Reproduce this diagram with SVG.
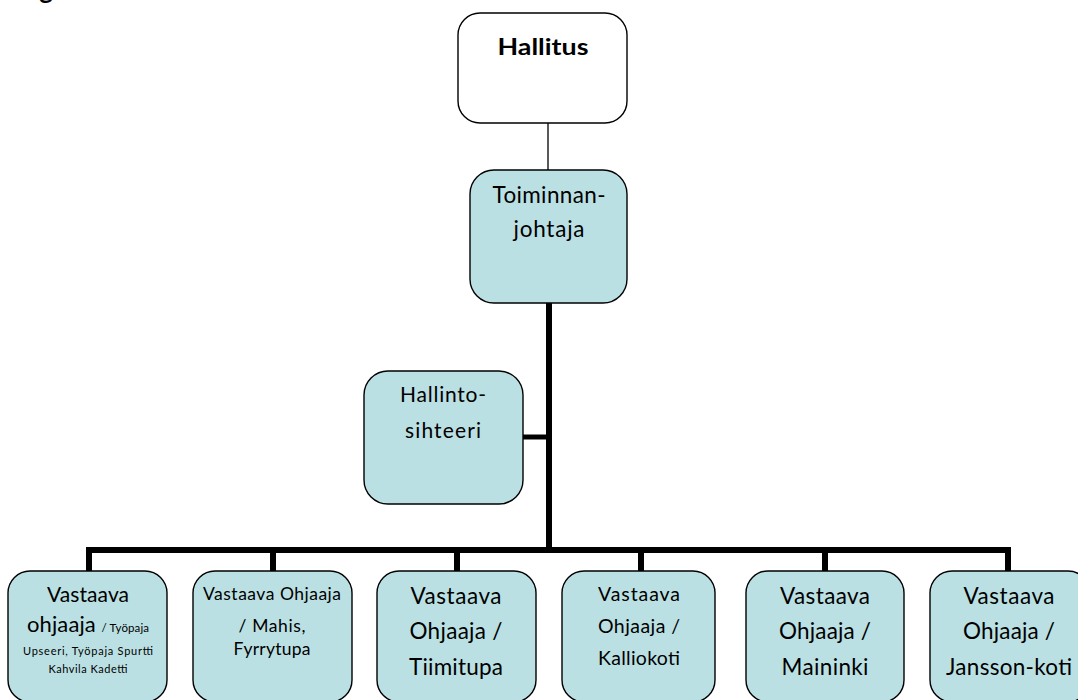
<svg xmlns="http://www.w3.org/2000/svg" width="1078" height="700" viewBox="0 0 1078 700">
<style>
.box{fill:#BBE0E3;stroke:#000;stroke-width:1.4}
.white{fill:#fff;stroke:#000;stroke-width:1.4}
text{font-family:Lato,"Liberation Sans",sans-serif;fill:#000;text-anchor:middle}
.thick{fill:none;stroke:#000;stroke-width:6;stroke-linejoin:miter;stroke-linecap:butt}
.thin{fill:none;stroke:#000;stroke-width:1.3}
.f22{font-size:22.5px}
.f20{font-size:21px}
.f19{font-size:19.5px}
.f17{font-size:17.5px}
.f11{font-size:11px}
</style>
<rect width="1078" height="700" fill="#fff"/>
<text x="46" y="-1" style="font-size:26px;font-weight:bold">g</text>
<g id="connectors">
<path class="thin" d="M548 123V170"/>
<path class="thick" d="M549 303V550"/>
<path class="thick" d="M523 437H549" style="stroke-width:5"/>
<path class="thick" d="M89 571V550H1008V571"/>
<path class="thick" d="M273 550V571M457 550V571M641 550V571M825 550V571"/>
</g>
<g id="hallitus">
<rect class="white" x="458" y="13" width="169" height="110" rx="22"/>
<text x="543" y="55" style="font-size:23px;font-weight:bold" textLength="91" lengthAdjust="spacingAndGlyphs">Hallitus</text>
</g>
<g id="toiminnanjohtaja">
<rect class="box" x="470" y="170" width="157" height="133" rx="24"/>
<text x="549" y="203" class="f22" textLength="113" lengthAdjust="spacing">Toiminnan-</text>
<text x="549" y="237" class="f22" textLength="71" lengthAdjust="spacing">johtaja</text>
</g>
<g id="hallintosihteeri">
<rect class="box" x="364" y="371" width="159" height="133" rx="24"/>
<text x="443" y="402" class="f20" textLength="86" lengthAdjust="spacing">Hallinto-</text>
<text x="443" y="438" class="f20" textLength="76" lengthAdjust="spacing">sihteeri</text>
</g>
<g id="vo1">
<rect class="box" x="8" y="571" width="159" height="131" rx="22"/>
<text x="88" y="602" class="f20" textLength="82" lengthAdjust="spacing">Vastaava</text>
<text x="88" y="632" textLength="122" lengthAdjust="spacing"><tspan style="font-size:22px">ohjaaja </tspan><tspan style="font-size:11.5px">/ Työpaja</tspan></text>
<text x="88" y="655" class="f11" textLength="130" lengthAdjust="spacing">Upseeri, Työpaja Spurtti</text>
<text x="88" y="673" class="f11" textLength="79" lengthAdjust="spacing">Kahvila Kadetti</text>
</g>
<g id="vo2">
<rect class="box" x="193" y="571" width="159" height="131" rx="22"/>
<text x="272" y="600" class="f17" textLength="138" lengthAdjust="spacing">Vastaava Ohjaaja</text>
<text x="272" y="632" class="f17" textLength="67" lengthAdjust="spacing">/ Mahis,</text>
<text x="272" y="655" class="f17" textLength="77" lengthAdjust="spacing">Fyrrytupa</text>
</g>
<g id="vo3">
<rect class="box" x="377" y="571" width="159" height="131" rx="22"/>
<text x="456" y="604" class="f22" textLength="91" lengthAdjust="spacing">Vastaava</text>
<text x="456" y="639" class="f22" textLength="93" lengthAdjust="spacing">Ohjaaja /</text>
<text x="456" y="675" class="f22" textLength="94" lengthAdjust="spacing">Tiimitupa</text>
</g>
<g id="vo4">
<rect class="box" x="562" y="571" width="153" height="131" rx="22"/>
<text x="639" y="601" class="f19" textLength="82" lengthAdjust="spacing">Vastaava</text>
<text x="639" y="633" class="f19" textLength="82" lengthAdjust="spacing">Ohjaaja /</text>
<text x="639" y="665" class="f19" textLength="82" lengthAdjust="spacing">Kalliokoti</text>
</g>
<g id="vo5">
<rect class="box" x="746" y="571" width="158" height="131" rx="22"/>
<text x="825" y="604" class="f22" textLength="90" lengthAdjust="spacing">Vastaava</text>
<text x="825" y="639" class="f22" textLength="92" lengthAdjust="spacing">Ohjaaja /</text>
<text x="825" y="675" class="f22" textLength="87" lengthAdjust="spacing">Maininki</text>
</g>
<g id="vo6">
<rect class="box" x="930" y="571" width="160" height="131" rx="22"/>
<text x="1009" y="604" class="f22" textLength="91" lengthAdjust="spacing">Vastaava</text>
<text x="1009" y="639" class="f22" textLength="92" lengthAdjust="spacing">Ohjaaja /</text>
<text x="1009" y="675" class="f22" textLength="126" lengthAdjust="spacing">Jansson-koti</text>
</g>
</svg>
